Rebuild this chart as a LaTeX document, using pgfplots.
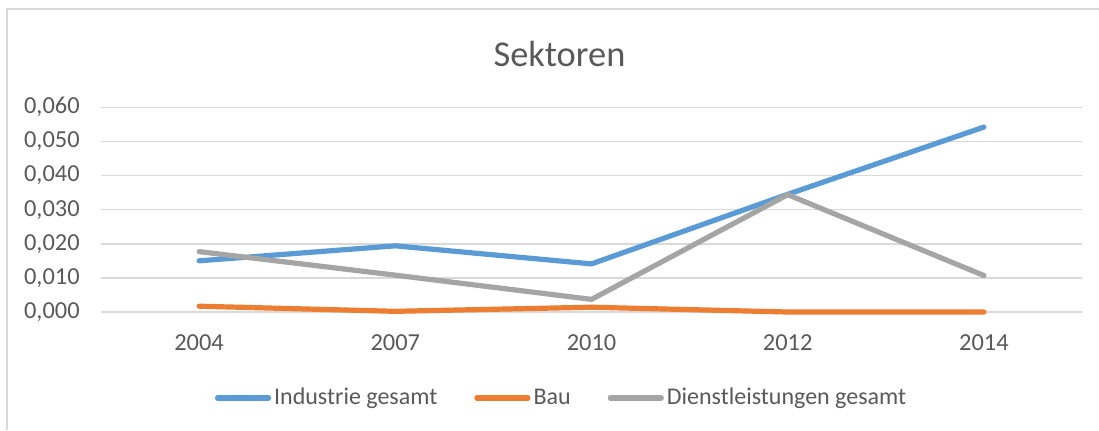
\documentclass[border=0pt]{standalone}
\usepackage{fontspec}
\setmainfont{Carlito}
\usepackage{pgfplots}
\pgfplotsset{compat=1.18}
\definecolor{indblue}{HTML}{5B9BD5}
\definecolor{bauorange}{HTML}{ED7D31}
\definecolor{dlgray}{HTML}{A5A5A5}
\definecolor{gridgray}{HTML}{D9D9D9}
\definecolor{textgray}{HTML}{595959}

\begin{document}
\begin{tikzpicture}
% picture frame: 1099 x 430 px, 1 px = 0.5 pt
\path[use as bounding box] (0pt,0pt) rectangle (549.5pt,215pt);
\draw[gridgray, line width=0.75pt] (3.5pt,0pt) -- (3.5pt,210.5pt) -- (549.5pt,210.5pt);

\begin{axis}[
  at={(50.5pt,59pt)}, anchor=south west,
  width=490.5pt, height=102.35pt, scale only axis,
  xmin=-0.5, xmax=4.5, ymin=0, ymax=0.06,
  xtick={0,1,2,3,4},
  xticklabels={2004,2007,2010,2012,2014},
  ytick={0,0.01,0.02,0.03,0.04,0.05,0.06},
  scaled y ticks=false,
  axis line style={draw=none},
  major tick length=0pt,
  ymajorgrids, grid style={gridgray, line width=0.75pt},
  tick label style={font=\fontsize{12.2}{14}\selectfont, text=textgray, inner sep=0pt},
  xticklabel style={yshift=-11pt},
  yticklabel style={xshift=-10.5pt, /pgf/number format/.cd, fixed, fixed zerofill, precision=3, use comma, assume math mode=true},
  clip=false,
  every axis plot/.append style={line width=2.6pt, line cap=round, line join=round},
  legend columns=3,
  legend style={at={(0.47,-0.42)}, anchor=center, draw=none, fill=none,
    font=\fontsize{12}{14}\selectfont, text=textgray,
    nodes={inner sep=1.5pt},
    /tikz/every even column/.append style={column sep=17pt}},
  legend image code/.code={\draw[#1] (0pt,0pt) -- (25.5pt,0pt);},
]
\addplot[indblue] coordinates {(0,0.0150) (1,0.0194) (2,0.0141) (3,0.0345) (4,0.0542)};
\addlegendentry{Industrie gesamt}
\addplot[bauorange] coordinates {(0,0.0017) (1,0.0002) (2,0.0014) (3,0.0000) (4,0.0000)};
\addlegendentry{Bau}
\addplot[dlgray] coordinates {(0,0.0177) (1,0.0108) (2,0.0037) (3,0.0344) (4,0.0107)};
\addlegendentry{Dienstleistungen gesamt}
\end{axis}

\node[font=\fontsize{18.2}{21}\selectfont, text=textgray] at (279.75pt,188pt) {Sektoren};
\end{tikzpicture}
\end{document}
